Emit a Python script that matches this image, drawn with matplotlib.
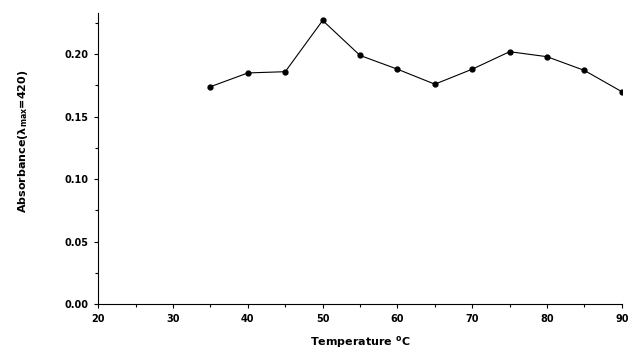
import matplotlib
matplotlib.use('Agg')
import matplotlib.pyplot as plt
from matplotlib.ticker import MultipleLocator

# data
temperature = [35, 40, 45, 50, 55, 60, 65, 70, 75, 80, 85, 90]
absorbance = [0.174, 0.185, 0.186, 0.227, 0.199, 0.188, 0.176, 0.188, 0.202, 0.198, 0.187, 0.170]
y_ticks = [0.00, 0.05, 0.10, 0.15, 0.20]
x_ticks = [20, 30, 40, 50, 60, 70, 80, 90]

fig = plt.figure(figsize=(6.3, 3.5), dpi=100)
ax = fig.add_axes([0.156, 0.131, 0.831, 0.832])

ax.plot(temperature, absorbance, color='black', lw=0.8,
        marker='o', markersize=3.5, markerfacecolor='black', markeredgecolor='black')

ax.set_xlim(20, 90)
ax.set_ylim(0, 0.233)
ax.set_xticks(x_ticks)
ax.set_yticks(y_ticks)
ax.xaxis.set_minor_locator(MultipleLocator(5))
ax.yaxis.set_minor_locator(MultipleLocator(0.025))
ax.set_xticklabels([str(t) for t in x_ticks], fontsize=7, fontweight='bold')
ax.set_yticklabels(['%.2f' % t for t in y_ticks], fontsize=7, fontweight='bold')

ax.spines['top'].set_visible(False)
ax.spines['right'].set_visible(False)
ax.tick_params(which='major', length=3, width=0.8, pad=4)
ax.tick_params(which='minor', length=2, width=0.8)

ax.set_xlabel('Temperature $^{\\mathbf{o}}$C', fontsize=8, fontweight='bold', labelpad=7)
ax.set_ylabel('Absorbance($\\mathbf{\\lambda_{max}}$=420)', fontsize=8, fontweight='bold')
ax.yaxis.set_label_coords(-0.13, 0.56)

fig.savefig('out.png', dpi=100)
